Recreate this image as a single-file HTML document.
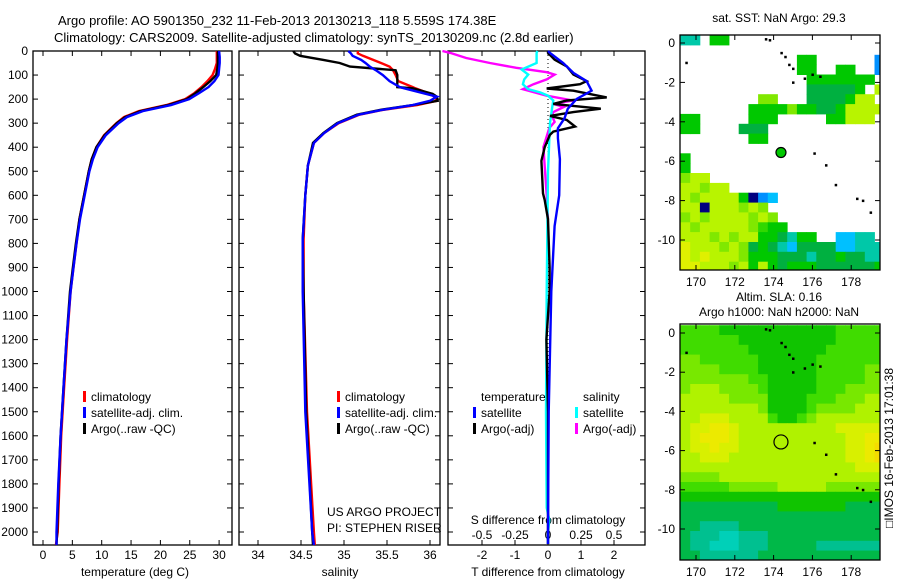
<!DOCTYPE html>
<html><head><meta charset="utf-8"><style>
html,body{margin:0;padding:0;background:#fff;}
svg{display:block;font-family:"Liberation Sans",sans-serif;}
text{font-size:12px;fill:#000;}
</style></head><body>
<svg id="chart" width="900" height="580" viewBox="0 0 900 580" xmlns="http://www.w3.org/2000/svg">
<text x="58" y="25" style="font-size:13px">Argo profile: AO 5901350_232 11-Feb-2013 20130213_118 5.559S 174.38E</text>
<text x="54" y="42" style="font-size:13px">Climatology: CARS2009. Satellite-adjusted climatology: synTS_20130209.nc (2.8d earlier)</text>
<text x="779" y="22" text-anchor="middle">sat. SST: NaN Argo: 29.3</text>
<text x="779" y="301" text-anchor="middle">Altim. SLA: 0.16</text>
<text x="779" y="316" text-anchor="middle">Argo h1000: NaN h2000: NaN</text>
<text transform="translate(893,448) rotate(-90)" text-anchor="middle">□IMOS 16-Feb-2013 17:01:38</text>
<g id="g"></g>
</svg>
<script>
// ---- data ----
const tDepths=[0,25,50,75,100,125,150,175,200,225,250,275,300,350,400,450,500,600,700,800,900,1000,1200,1400,1600,1800,2000,2060];
const tArgo=[29.8,29.8,29.8,29.7,29.5,28.5,27.3,26.0,24.5,21.3,16.6,14.0,12.6,10.5,9.1,8.3,7.8,7.0,6.2,5.6,5.1,4.6,4.0,3.5,3.0,2.65,2.4,2.3];
const tClim=[29.6,29.6,29.6,29.3,28.9,28.0,27.0,25.8,24.2,21.0,16.3,13.8,12.5,10.4,9.1,8.3,7.8,7.0,6.2,5.7,5.2,4.7,4.1,3.6,3.1,2.8,2.5,2.2];
const tSat=[30.0,30.1,30.1,30.0,29.9,29.2,28.2,26.6,24.9,21.8,17.0,14.3,12.9,10.7,9.3,8.5,7.9,7.1,6.3,5.7,5.2,4.7,4.0,3.5,3.0,2.6,2.3,2.3];
const sDepths=[0,10,20,37,50,65,80,100,125,150,155,178,190,207,225,245,265,300,341,382,476,600,785,1000,1500,2000,2060];
const sArgo=[34.41,34.43,34.49,34.76,34.95,35.07,35.6,35.62,35.62,35.62,35.8,36.03,36.08,36.09,35.8,35.42,35.15,34.92,34.76,34.64,34.58,34.55,34.52,34.53,34.56,34.63,34.64];
const sClim=[35.16,35.16,35.22,35.34,35.43,35.53,35.57,35.6,35.63,35.8,35.83,36.0,36.05,36.08,35.85,35.45,35.18,34.94,34.77,34.65,34.58,34.55,34.53,34.53,34.57,34.65,34.66];
const sSat=[35.05,35.08,35.1,35.2,35.25,35.3,35.37,35.45,35.53,35.65,35.7,35.95,36.08,36.0,35.8,35.44,35.17,34.93,34.77,34.65,34.58,34.55,34.52,34.52,34.55,34.63,34.65];
const tdArgoDepths=[0,8,36,64,98,125,138,156,165,193,206,220,240,254,270,287,314,335,348,400,457,592,620,700,900,1000,1200,1500,2000,2050];
const tdArgo=[0,0,0.2,0.57,0.77,1.17,0.97,-0.04,0.77,1.78,0.57,0.16,1.6,0.77,0.06,0.57,0.82,0.16,0.06,-0.1,-0.2,-0.15,-0.1,0,0.05,0.05,-0.05,0,0,0];
const tdSatDepths=[0,8,50,91,125,165,199,240,280,321,362,450,600,728,1000,1500,2000,2050];
const tdSat=[0.0,0.06,0.46,0.77,1.17,1.32,0.87,0.6,0.5,0.3,0.3,0.36,0.34,0.2,0.1,0.02,0,0];
const sdArgoDepths=[0,8,29,50,70,88,98,118,138,159,186,206,220,233,254,270,295,320,400,600,700];
const sdArgo=[-0.8,-0.74,-0.62,-0.44,-0.24,-0.01,0.05,-0.01,-0.11,-0.19,-0.01,0.19,0.04,0.12,0.04,0.03,0.05,0.01,-0.035,-0.01,0];
const sdSatDepths=[0,8,50,77,98,118,138,159,172,186,206,240,300,500,1000,1500,1900,1950,2000,2050];
const sdSat=[-0.08,-0.086,-0.086,-0.2,-0.15,-0.18,-0.19,-0.15,-0.06,0.0,0.04,0.03,0.015,0.0,-0.01,-0.015,-0.01,0.01,0,0];
const depthTicks=[0,100,200,300,400,500,600,700,800,900,1000,1100,1200,1300,1400,1500,1600,1700,1800,1900,2000];
const tTicks=[0,5,10,15,20,25,30];
const sTicks=[34,34.5,35,35.5,36];
const sTickLabels=["34","34.5","35","35.5","36"];
const tdTicks=[-2,-1,0,1,2];
const sdTicks=[-0.5,-0.25,0,0.25,0.5];
const sdTickLabels=["-0.5","-0.25","0","0.25","0.5"];
const lonTicks=[170,172,174,176,178];
const latTicks=[0,-2,-4,-6,-8,-10];
const argoLon=174.38, argoLat=-5.559;
const sstGrid=[
"33.55................",
".....................",
"............55......1",
"............55..55..1",
".............5555555.",
".............444445.8",
"........77...4444588.",
".......55557554458888",
"55.....555.....55888.",
"55....444............",
".......55............",
".....................",
"5....................",
"5....................",
"788..................",
"88788................",
"8788885012...........",
"880888787............",
"7878888787...........",
"87888887655..........",
"88878788554355..2233.",
"988878745432444422333",
"989888755544434454433",
"998887858545554444445"];
const slaGrid=[
"666655555555555566666",
"666666555555555566666",
"666666655555555666666",
"776666665555556666666",
"777766665555556666677",
"777777766555556666677",
"788877776555556667777",
"888887777555566677788",
"888888887555567777888",
"889998888655678888888",
"899aa9888888888899999",
"89aaa98888888888899aa",
"899a998888888888899ab",
"8899988888888888899ab",
"888888888888888888999",
"777788888888888888888",
"666667777788888777777",
"555555555555555555555",
"444444444455555554444",
"444444444444444444444",
"443333444444444444444",
"433322333444444444444",
"433222333444443333333",
"443333334444444444444"];
const coastLon=[173.6,173.8,174.4,174.6,174.8,175.0,175.6,176.0,176.4,175.0,176.1,176.7,177.2,178.3,178.6,179.0,169.5];
const coastLat=[0.2,0.15,-0.5,-0.7,-1.1,-1.3,-1.8,-1.6,-1.7,-2.0,-5.6,-6.2,-7.2,-7.9,-8.0,-8.6,-1.0];

// ---- helpers ----
const NS="http://www.w3.org/2000/svg";
const G=document.getElementById('g');
function mk(tag,attrs,parent){const e=document.createElementNS(NS,tag);for(const k in attrs)e.setAttribute(k,attrs[k]);(parent||G).appendChild(e);return e;}
const TOP=51,BOT=545;
function yD(d){return Math.min(51+d*0.2405,BOT);}
function xT(t){return 43+t*5.87;}
function xS(s){return 258+(s-34)*86;}
function xTD(v){return 548+v*33;}
function xSD(v){return 548+v*132;}
const pal1={'0':'#000080','1':'#0090ff','2':'#00c0ff','3':'#00c8a8','4':'#00b040','5':'#00c800','6':'#30d800','7':'#80e800','8':'#b8f400','9':'#e0f000'};
const pal2={'2':'#00d0b8','3':'#00c090','4':'#00b848','5':'#10c400','6':'#40dc00','7':'#78e800','8':'#b0f200','9':'#d8f000','a':'#ecea00','b':'#f4dc00'};

function frame(x0,x1,y0,y1,name){
  const r=mk('rect',{x:x0,y:y0,width:x1-x0,height:y1-y0,fill:'none',stroke:'#000','stroke-width':1.3});
  
  
}
function line(xs,ys,color,name,w){
  const pts=xs.map((x,i)=>x.toFixed(1)+','+ys[i].toFixed(1)).join(' ');
  const p=mk('polyline',{points:pts,fill:'none',stroke:color,'stroke-width':w||2.4,'stroke-linejoin':'miter'});
  
  
}
function txt(x,y,s,anchor,name,size){
  const t=mk('text',{x:x,y:y,'text-anchor':anchor||'start'});
  if(size)t.style.fontSize=size+'px';
  t.textContent=s;
  
  
  return t;
}
function depthTicksFor(x0,x1){
  depthTicks.forEach(d=>{const y=yD(d);mk('line',{x1:x0,y1:y,x2:x0+5,y2:y,stroke:'#000'});mk('line',{x1:x1-5,y1:y,x2:x1,y2:y,stroke:'#000'});});
}
function xTicksFor(vals,fx){
  vals.forEach(v=>{const x=fx(v);mk('line',{x1:x,y1:TOP,x2:x,y2:TOP+5,stroke:'#000'});mk('line',{x1:x,y1:BOT-5,x2:x,y2:BOT,stroke:'#000'});});
}
function legendRow(x,y,color,label,name){
  if(color){const m=mk('rect',{x:x,y:y-6,width:3,height:11,fill:color});}
  txt(x+8,y+4,label,'start',name);
}

// ---- panel 1: temperature ----
frame(33,232,TOP,BOT,'temperature-panel');
depthTicksFor(33,232);xTicksFor(tTicks,xT);
depthTicks.forEach(d=>txt(28,yD(d)+4,String(d),'end','depth-tick-label'));
tTicks.forEach(t=>txt(xT(t),559,String(t),'middle','temperature-tick-label'));
line(tClim.map(xT),tDepths.map(yD),'#ff0000','temperature-climatology-line');
line(tArgo.map(xT),tDepths.map(yD),'#000000','temperature-argo-line');
line(tSat.map(xT),tDepths.map(yD),'#0000ff','temperature-satellite-line');
legendRow(83,397,'#ff0000','climatology','legend-climatology');
legendRow(83,413,'#0000ff','satellite-adj. clim.','legend-satellite-adj');
legendRow(83,429,'#000000','Argo(..raw -QC)','legend-argo');

// ---- panel 2: salinity ----
frame(239,440,TOP,BOT,'salinity-panel');
depthTicksFor(239,440);xTicksFor(sTicks,xS);
sTicks.forEach((s,i)=>txt(xS(s),559,sTickLabels[i],'middle','salinity-tick-label'));
line(sClim.map(xS),sDepths.map(yD),'#ff0000','salinity-climatology-line');
line(sArgo.map(xS),sDepths.map(yD),'#000000','salinity-argo-line');
line(sSat.map(xS),sDepths.map(yD),'#0000ff','salinity-satellite-line');
legendRow(337,397,'#ff0000','climatology','legend-climatology-2');
legendRow(337,413,'#0000ff','satellite-adj. clim.','legend-satellite-adj-2');
legendRow(337,429,'#000000','Argo(..raw -QC)','legend-argo-2');
txt(327,516,'US ARGO PROJECT','start','project-label');
txt(327,532,'PI: STEPHEN RISER','start','pi-label');

// ---- panel 3: differences ----
frame(448,645,TOP,BOT,'difference-panel');
depthTicksFor(448,645);xTicksFor(tdTicks,xTD);
mk('line',{x1:548,y1:TOP,x2:548,y2:BOT,stroke:'#000','stroke-dasharray':'1,3'});
tdTicks.forEach(v=>txt(xTD(v),559,String(v),'middle','t-diff-tick-label'));
sdTicks.forEach((v,i)=>txt(xSD(v),539,sdTickLabels[i],'middle','s-diff-tick-label'));
txt(548,524,'S difference from climatology','middle','s-diff-axis-title');
line(sdArgo.map(xSD),sdArgoDepths.map(yD),'#ff00ff','s-diff-argo-line');
line(sdSat.map(xSD),sdSatDepths.map(yD),'#00ffff','s-diff-satellite-line');
line(tdArgo.map(xTD),tdArgoDepths.map(yD),'#000000','t-diff-argo-line');
line(tdSat.map(xTD),tdSatDepths.map(yD),'#0000ff','t-diff-satellite-line');
txt(481,401,'temperature','start','legend-temperature-heading');
legendRow(473,413,'#0000ff','satellite','legend-t-satellite');
legendRow(473,429,'#000000','Argo(-adj)','legend-t-argo');
txt(583,401,'salinity','start','legend-salinity-heading');
legendRow(575,413,'#00ffff','satellite','legend-s-satellite');
legendRow(575,429,'#ff00ff','Argo(-adj)','legend-s-argo');

// x-axis titles
txt(135,576,'temperature (deg C)','middle','temperature-axis-title');
txt(340,576,'salinity','middle','salinity-axis-title');
txt(548,576,'T difference from climatology','middle','t-diff-axis-title');

// ---- maps ----
function drawMap(x0,x1,y0,y1,lat0y,latScale,grid,pal,name,filledDot){
  const lon2x=lo=>696+(lo-170)*19.4;
  const lat2y=la=>lat0y-la*latScale;
  const cl=mk('clipPath',{id:'clip-'+name});
  mk('rect',{x:x0,y:y0,width:x1-x0,height:y1-y0},cl);
  const g=mk('g',{'clip-path':'url(#clip-'+name+')'});
  
  
  grid.forEach((row,j)=>{
    for(let i=0;i<row.length;i++){
      const c=row[i];if(c==='.')continue;
      const lo=169.2+0.5*i, la=0.4-0.5*j;
      const xa=lon2x(lo), ya=lat2y(la);
      const r=mk('rect',{x:xa.toFixed(1),y:ya.toFixed(1),width:(0.5*19.4+0.4).toFixed(1),height:(0.5*latScale+0.4).toFixed(1),fill:pal[c]},g);
      
      
    }
  });
  coastLon.forEach((lo,k)=>{
    const r=mk('rect',{x:lon2x(lo)-1,y:lat2y(coastLat[k])-1,width:2.5,height:2.5,fill:'#000'},g);
    
    
  });
  frame(x0,x1,y0,y1,name+'-frame');
  lonTicks.forEach(lo=>{const x=lon2x(lo);mk('line',{x1:x,y1:y0,x2:x,y2:y0+5,stroke:'#000'});mk('line',{x1:x,y1:y1-5,x2:x,y2:y1,stroke:'#000'});
    txt(x,y1+16,String(lo),'middle',name+'-lon-label');});
  latTicks.forEach(la=>{const y=lat2y(la);mk('line',{x1:x0,y1:y,x2:x0+5,y2:y,stroke:'#000'});mk('line',{x1:x1-5,y1:y,x2:x1,y2:y,stroke:'#000'});
    txt(x0-5,y+4,String(la),'end',name+'-lat-label');});
  const c=mk('circle',{cx:lon2x(argoLon),cy:lat2y(argoLat),r:filledDot?5:7,fill:filledDot?'#00c800':'none',stroke:'#000','stroke-width':1.2});
  
  
}
drawMap(680,880,35,270,43,19.7,sstGrid,pal1,'sst-map',true);
drawMap(680,880,324,560,333,19.6,slaGrid,pal2,'sla-map',false);
</script>
</body></html>
